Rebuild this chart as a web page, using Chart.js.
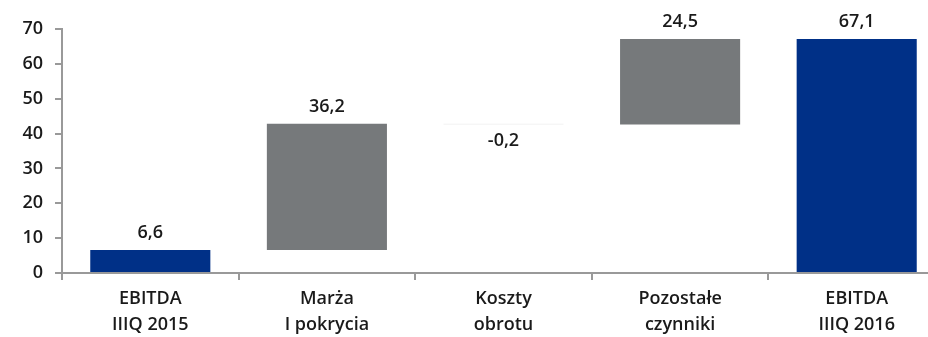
<!DOCTYPE html>
<html>
<head>
<meta charset="utf-8">
<script src="https://cdn.jsdelivr.net/npm/chart.js@4"></script>
<style>
  body { margin: 0; overflow: hidden; background: #fff; }
  #wrap { width: 946px; height: 337px; }
</style>
</head>
<body>
<div id="wrap"><canvas id="myChart"></canvas></div>
<script>
const categories = [
  ["EBITDA", "IIIQ 2015"],
  ["Marża", "I pokrycia"],
  ["Koszty", "obrotu"],
  ["Pozostałe", "czynniki"],
  ["EBITDA", "IIIQ 2016"],
];
const values = [6.6, 36.2, -0.2, 24.5, 67.1];
const isTotal = [true, false, false, false, true];
const yMin = 0;
const yMax = 70;
const yStep = 10;

const barColors = ["#003087", "#76797b", "#eeeeee", "#76797b", "#003087"];

// floating ranges for the waterfall
let run = 0;
const ranges = values.map((v, i) => {
  if (isTotal[i]) {
    run = v;
    return [0, v];
  }
  const start = run;
  run += v;
  return [start, run];
});

const fmt = (v) => v.toFixed(1).replace(".", ",");

const valueLabels = {
  id: "valueLabels",
  afterDatasetsDraw(chart) {
    const ctx = chart.ctx;
    const meta = chart.getDatasetMeta(0);
    ctx.save();
    ctx.font = "600 18px 'Open Sans'";
    ctx.fillStyle = "#1a1a1a";
    ctx.textAlign = "center";
    ctx.textBaseline = "middle";
    meta.data.forEach((bar, i) => {
      const v = values[i];
      const top = Math.min(bar.y, bar.base);
      const bottom = Math.max(bar.y, bar.base);
      const y = v >= 0 ? top - 17 : bottom + 16;
      ctx.fillText(fmt(v), bar.x, y);
    });
    ctx.restore();
  },
};

new Chart("myChart", {
  type: "bar",
  data: {
    labels: categories,
    datasets: [
      {
        data: ranges,
        backgroundColor: barColors,
        borderWidth: 0,
        borderSkipped: false,
        barPercentage: 0.68,
        categoryPercentage: 1,
      },
    ],
  },
  options: {
    responsive: true,
    maintainAspectRatio: false,
    animation: false,
    layout: {
      padding: { top: 29, right: 1, left: 0, bottom: 0 },
    },
    scales: {
      x: {
        afterFit: (scale) => {
          scale.height = 64;
        },
        grid: {
          offset: true,
          drawOnChartArea: false,
          drawTicks: true,
          tickLength: 7,
          color: "#999999",
          lineWidth: 2,
        },
        border: { color: "#999999", width: 2 },
        ticks: {
          padding: 6,
          color: "#1a1a1a",
          font: { family: "'Open Sans'", size: 18, weight: "600", lineHeight: 1.45 },
        },
      },
      y: {
        min: yMin,
        max: yMax,
        afterFit: (scale) => {
          scale.width = 62;
        },
        grid: {
          drawOnChartArea: false,
          drawTicks: true,
          tickLength: 7,
          color: "#999999",
          lineWidth: 2,
        },
        border: { color: "#999999", width: 2 },
        ticks: {
          stepSize: yStep,
          padding: 12,
          color: "#1a1a1a",
          font: { family: "'Open Sans'", size: 18, weight: "600" },
        },
      },
    },
    plugins: {
      legend: { display: false },
      tooltip: { enabled: false },
    },
  },
  plugins: [valueLabels],
});
</script>
</body>
</html>
